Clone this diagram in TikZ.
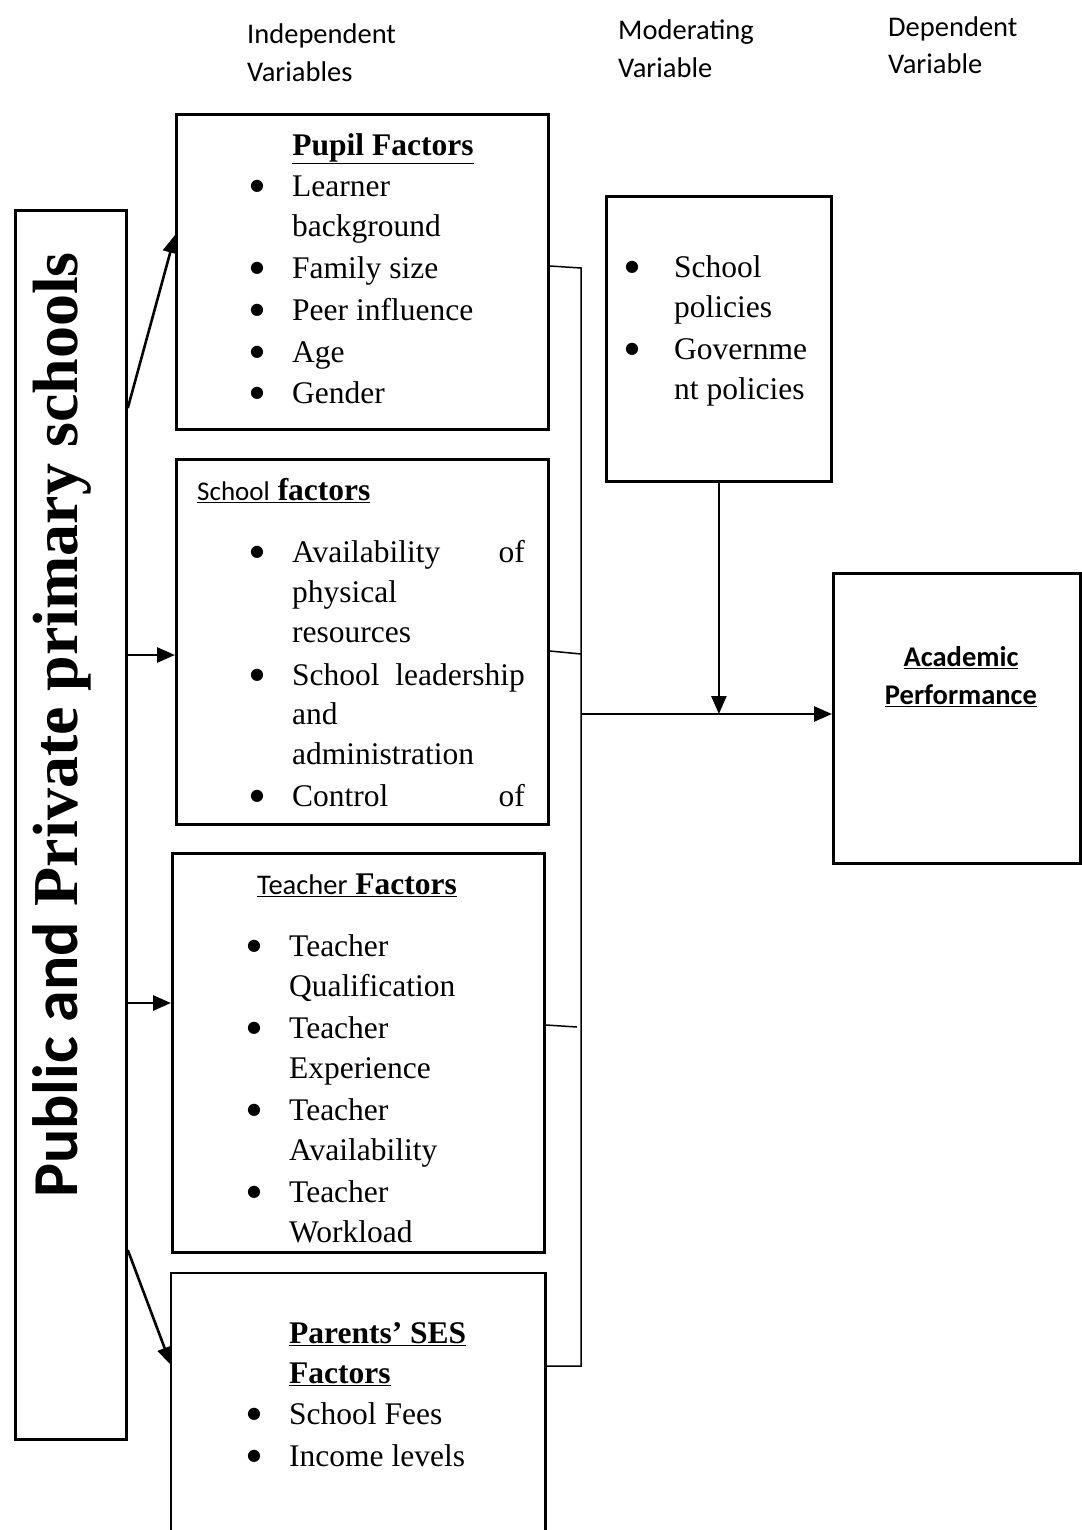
\documentclass[tikz,border=0pt]{standalone}
\usepackage{fontspec}
\setmainfont{Liberation Serif}
\newfontfamily\calfont{Carlito}
\newfontfamily\dejafont{DejaVu Sans}
\usetikzlibrary{arrows.meta}
\begin{document}
\begin{tikzpicture}[x=1pt,y=-1pt,
  box/.style={draw, line width=2.8pt, inner sep=0pt, anchor=north west},
  txt/.style={anchor=mid west, inner sep=0pt, yshift=-8pt, font=\fontsize{31.5}{41}\selectfont},
  txtr/.style={anchor=mid east, inner sep=0pt, yshift=-8pt, font=\fontsize{31.5}{41}\selectfont},
  ttl/.style={anchor=mid, inner sep=0pt, yshift=-8pt, font=\fontsize{31.5}{41}\selectfont},
  bul/.style={anchor=center, inner sep=0pt, font=\dejafont\fontsize{16}{16}\selectfont},
  lab/.style={anchor=mid west, inner sep=0pt, yshift=-7pt, font=\calfont\fontsize{28.5}{38}\selectfont},
  arr/.style={line width=2.6pt, -{Triangle[length=18pt,width=15pt]}},
  thin/.style={line width=1.5pt}]
\useasboundingbox (0,0) rectangle (1081,1530);

% top labels
\node[lab] (l1) at (247,34) {Independent};
\node[lab] (l2) at (247,72) {Variables};
\node[lab] (l3) at (618,30) {Moderating};
\node[lab] (l4) at (618,68) {Variable};
\node[lab] (l5) at (888,27) {Dependent};
\node[lab] (l6) at (888,64) {Variable};

% boxes
\node[box, minimum width=111, minimum height=1229] (lbox) at (14,209) {};
\node[box, minimum width=372, minimum height=315] (pupil) at (175,113) {};
\node[box, minimum width=372, minimum height=365] (school) at (175,458) {};
\node[box, minimum width=372, minimum height=399] (teacher) at (171,852) {};
\node[box, draw=none, minimum width=372, minimum height=272] (parents) at (171,1273) {};
\draw[line width=2.8pt] (parents.south west) -- (parents.north west) -- (parents.north east) -- (parents.south east);
\node[box, minimum width=225, minimum height=285] (mod) at (605,195) {};
\node[box, minimum width=247, minimum height=290] (acad) at (832,572) {};

% rotated title
\node[inner sep=0pt, rotate=90] (title) at (62,725)
  {\fontsize{64}{64}\selectfont\bfseries{\calfont Public and} Private primary schools};

% pupil box text
\node[ttl] (p0) at (383,145) {\bfseries\underline{Pupil Factors}};
\foreach \yy/\t [count=\i] in {186/Learner,226/background,268/Family size,310/Peer influence,352/Age,393/Gender}{
  \node[txt] (p\i) at (292,\yy) {\t};
}
\foreach \yy [count=\i] in {186,268,310,352,393}{
  \node[bul] (pb\i) at (257,\yy) {●};
}

% school box text
\node[txt] (s0) at (197,490) {\underline{{\calfont\fontsize{27}{30}\selectfont School} \bfseries factors}};
\node[txt] (s1) at (292,552) {Availability};
\node[txtr] (s1b) at (525,552) {of};
\node[txt] (s2) at (292,592) {physical};
\node[txt] (s3) at (292,632) {resources};
\node[txt] (s4) at (292,675) {School};
\node[txtr] (s4b) at (525,675) {leadership};
\node[txt] (s5) at (292,714) {and};
\node[txt] (s6) at (292,754) {administration};
\node[txt] (s7) at (292,796) {Control};
\node[txtr] (s7b) at (525,796) {of};
\foreach \yy [count=\i] in {552,675,796}{
  \node[bul] (sb\i) at (257,\yy) {●};
}

% teacher box text
\node[ttl] (t0) at (357,884) {\underline{{\calfont\fontsize{28.5}{30}\selectfont Teacher} \bfseries Factors}};
\foreach \yy/\t [count=\i] in {946/Teacher,986/Qualification,1028/Teacher,1068/Experience,1110/Teacher,1150/Availability,1192/Teacher,1232/Workload}{
  \node[txt] (t\i) at (289,\yy) {\t};
}
\foreach \yy [count=\i] in {946,1028,1110,1192}{
  \node[bul] (tb\i) at (254,\yy) {●};
}

% parents box text
\node[txt] (r0) at (289,1333) {\bfseries\underline{Parents’ SES}};
\node[txt] (r1) at (289,1373) {\bfseries\underline{Factors}};
\node[txt] (r2) at (289,1414) {School Fees};
\node[txt] (r3) at (289,1456) {Income levels};
\foreach \yy [count=\i] in {1414,1456}{
  \node[bul] (rb\i) at (254,\yy) {●};
}

% moderating box text
\foreach \yy/\t [count=\i] in {267/School,307/policies,349/Governme,389/nt policies}{
  \node[txt] (m\i) at (674,\yy) {\t};
}
\foreach \yy [count=\i] in {267,349}{
  \node[bul] (mb\i) at (632,\yy) {●};
}

% academic performance
\node[inner sep=0pt, anchor=mid, yshift=-7pt, font=\calfont\fontsize{28.5}{38}\selectfont\bfseries] (a1) at (961,657) {\underline{Academic}};
\node[inner sep=0pt, anchor=mid, yshift=-7pt, font=\calfont\fontsize{28.5}{38}\selectfont\bfseries] (a2) at (961,695) {\underline{Performance}};

% connectors from the left box
\draw[arr] (lbox.east |- 0,408) -- (pupil.west |- 0,235);
\draw[arr] (lbox.east |- 0,655) -- (school.west |- 0,655);
\draw[arr] (lbox.east |- 0,1003) -- (teacher.west |- 0,1003);
\draw[arr] (lbox.east |- 0,1250) -- (parents.west |- 0,1365);

% bracket on the right
\coordinate (btop) at (581,268);
\coordinate (bbot) at (581,1366);
\coordinate (bmid) at (581,714);
\draw[thin] (pupil.east |- 0,266) -- (btop) -- (bbot) -- (parents.east |- bbot);
\draw[thin] (school.east |- 0,651) -- (581,654);
\draw[thin] (teacher.east |- 0,1025) -- (577,1027);
\draw[arr] (bmid) -- (acad.west |- bmid);
\draw[arr] (mod.south) -- (mod.south |- bmid);
\end{tikzpicture}
\end{document}
